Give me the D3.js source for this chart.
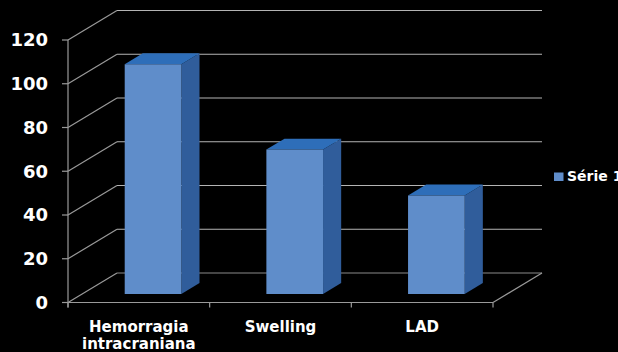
<!DOCTYPE html>
<html>
<head>
<meta charset="utf-8">
<script src="https://cdn.jsdelivr.net/npm/d3@7"></script>
<style>
	body { margin: 0; background: #000; }
	svg { display: block; }
	text { font-family: 'DejaVu Sans', sans-serif; font-weight: bold; fill: #fff; }
</style>
</head>
<body>
<div id="chart"></div>
<script>
const categories = [['Hemorragia', 'intracraniana'], ['Swelling'], ['LAD']];
const values = [105, 66, 45];
const yTicks = [0, 20, 40, 60, 80, 100, 120];
const seriesName = 'Série 1';

const width = 618;
const height = 352;

// 3d look: wall offset and where the bars sit in depth
const depth = { dx: 49, dy: -29.5 };
const barFront = 0.29;
const barBack = 0.66;

const svg = d3.select('#chart')
	.append('svg')
	.attr('width', width)
	.attr('height', height);

svg.append('rect')
	.attr('width', width)
	.attr('height', height)
	.attr('fill', '#000');

const x = d3.scaleBand()
	.domain(d3.range(categories.length))
	.range([68, 493])
	.paddingInner(0.6)
	.paddingOuter(0.3);

const xAxisScale = d3.scaleBand()
	.domain(d3.range(categories.length))
	.range([68, 493]);

const y = d3.scaleLinear()
	.domain([0, 120])
	.range([302.5, 40]);

// shift a point back into the chart depth
function back(px, py, f) {
	return [px + depth.dx * f, py + depth.dy * f];
}

const grid = svg.append('g').attr('class', 'grid');

// back wall gridlines
grid.selectAll('line.back')
	.data(yTicks)
	.enter()
	.append('line')
	.attr('class', 'back')
	.attr('x1', 68 + depth.dx)
	.attr('x2', 542)
	.attr('y1', d => y(d) + depth.dy)
	.attr('y2', d => y(d) + depth.dy)
	.attr('stroke', d => (d === 0 ? '#8a8a8a' : '#b4b4b4'))
	.attr('stroke-width', 1.2);

// left wall diagonals
grid.selectAll('line.side')
	.data(yTicks)
	.enter()
	.append('line')
	.attr('class', 'side')
	.attr('x1', 68)
	.attr('y1', d => y(d))
	.attr('x2', 68 + depth.dx)
	.attr('y2', d => y(d) + depth.dy)
	.attr('stroke', '#9a9a9a')
	.attr('stroke-width', 1.2);

// floor right edge
grid.append('line')
	.attr('x1', 493)
	.attr('y1', y(0))
	.attr('x2', 493 + depth.dx)
	.attr('y2', y(0) + depth.dy)
	.attr('stroke', '#9a9a9a')
	.attr('stroke-width', 1.2);

// front axes
grid.append('line')
	.attr('x1', 68).attr('x2', 68)
	.attr('y1', y(120)).attr('y2', y(0) + 5)
	.attr('stroke', '#9a9a9a')
	.attr('stroke-width', 1.2);

grid.append('line')
	.attr('x1', 62).attr('x2', 493)
	.attr('y1', y(0)).attr('y2', y(0))
	.attr('stroke', '#9a9a9a')
	.attr('stroke-width', 1.2);

grid.selectAll('line.ytick')
	.data(yTicks)
	.enter()
	.append('line')
	.attr('class', 'ytick')
	.attr('x1', 62).attr('x2', 68)
	.attr('y1', d => y(d)).attr('y2', d => y(d))
	.attr('stroke', '#9a9a9a')
	.attr('stroke-width', 1.2);

const xTickPos = d3.range(categories.length).map(i => xAxisScale(i)).concat([493]);
grid.selectAll('line.xtick')
	.data(xTickPos)
	.enter()
	.append('line')
	.attr('class', 'xtick')
	.attr('x1', d => d).attr('x2', d => d)
	.attr('y1', y(0)).attr('y2', y(0) + 5)
	.attr('stroke', '#9a9a9a')
	.attr('stroke-width', 1.2);

// y tick labels
svg.selectAll('text.ylabel')
	.data(yTicks)
	.enter()
	.append('text')
	.attr('class', 'ylabel')
	.attr('x', 48)
	.attr('y', d => y(d))
	.attr('dy', '0.36em')
	.attr('text-anchor', 'end')
	.attr('font-size', 18)
	.text(d => d);

// bars
const bars = svg.selectAll('g.bar')
	.data(values)
	.enter()
	.append('g')
	.attr('class', 'bar');

function barCorners(d, i) {
	const x0 = x(i);
	const x1 = x(i) + x.bandwidth();
	const yTop = y(d);
	const yBase = y(0);
	return {
		fTL: back(x0, yTop, barFront),
		fTR: back(x1, yTop, barFront),
		fBR: back(x1, yBase, barFront),
		fBL: back(x0, yBase, barFront),
		bTL: back(x0, yTop, barBack),
		bTR: back(x1, yTop, barBack),
		bBR: back(x1, yBase, barBack)
	};
}

bars.append('polygon')
	.attr('points', (d, i) => {
		const c = barCorners(d, i);
		return [c.fTR, c.bTR, c.bBR, c.fBR].join(' ');
	})
	.attr('fill', '#305d9b');

bars.append('polygon')
	.attr('points', (d, i) => {
		const c = barCorners(d, i);
		return [c.fTL, c.bTL, c.bTR, c.fTR].join(' ');
	})
	.attr('fill', '#2e6eb9');

bars.append('polygon')
	.attr('points', (d, i) => {
		const c = barCorners(d, i);
		return [c.fTL, c.fTR, c.fBR, c.fBL].join(' ');
	})
	.attr('fill', '#5f8dca');

// category labels
const catLabels = svg.selectAll('text.xlabel')
	.data(categories)
	.enter()
	.append('text')
	.attr('class', 'xlabel')
	.attr('text-anchor', 'middle')
	.attr('font-size', 15)
	.attr('y', 332);

catLabels.selectAll('tspan')
	.data((d, i) => d.map(line => ({ line, i })))
	.enter()
	.append('tspan')
	.attr('x', d => xAxisScale(d.i) + xAxisScale.bandwidth() / 2)
	.attr('dy', (d, j) => (j === 0 ? 0 : 17))
	.text(d => d.line);

// legend
const legend = svg.append('g').attr('class', 'legend');
legend.append('rect')
	.attr('x', 554)
	.attr('y', 172.5)
	.attr('width', 9.5)
	.attr('height', 8.5)
	.attr('fill', '#5f8dca');
legend.append('text')
	.attr('x', 567)
	.attr('y', 181)
	.attr('font-size', 14)
	.text(seriesName);
</script>
</body>
</html>
